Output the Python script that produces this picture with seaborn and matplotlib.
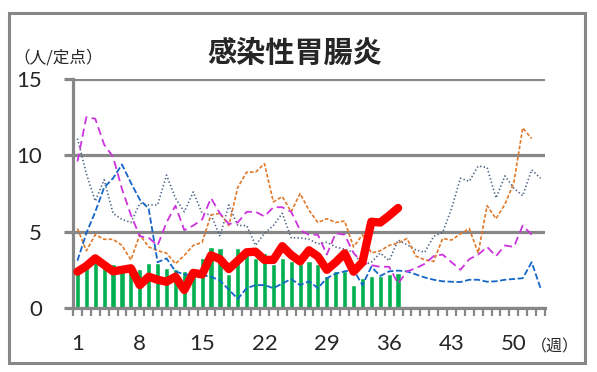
import numpy as np
import matplotlib
matplotlib.use("Agg")
import matplotlib.pyplot as plt
import seaborn as sns
from matplotlib.patches import Rectangle

# ====== データ ====== #
weeks = np.arange(1, 54)
week_labels = [1, 8, 15, 22, 29, 36, 43, 50]

# 棒グラフ (1〜37週)
bar_vals = [2.5, 2.7, 3.0, 2.8, 2.85, 2.6, 2.6, 2.55, 2.95, 2.95,
            2.65, 2.55, 2.4, 2.55, 3.3, 4.0, 3.9, 2.2, 3.9, 3.6,
            3.3, 3.6, 2.9, 3.3, 3.1, 2.85, 3.1, 2.9, 2.1, 2.4,
            2.4, 1.5, 1.95, 2.1, 2.1, 2.2, 2.3]

# 太い赤線 (1〜37週)
red_vals = [2.38, 2.75, 3.25, 2.82, 2.4, 2.5, 2.6, 1.5, 2.05, 1.85,
            1.72, 2.05, 1.18, 2.3, 2.2, 3.45, 3.2, 2.55, 3.1, 3.65,
            3.69, 3.15, 3.15, 4.05, 3.47, 3.05, 3.78, 3.38, 2.5, 3.0,
            3.58, 2.38, 3.0, 5.65, 5.6, 6.05, 6.55]

# 過去の年 (点線・破線)
magenta_vals = [9.6, 12.5, 12.4, 10.7, 9.9, 7.8, 6.1, 4.7, 4.6, 4.1,
                5.6, 6.7, 5.1, 5.4, 5.8, 7.2, 6.2, 5.5, 5.6, 6.3,
                6.3, 6.0, 6.6, 6.6, 6.3, 5.1, 4.8, 4.8, 3.5, 4.9,
                4.8, 3.6, 3.0, 2.8, 2.7, 2.7, 1.6, 2.4, 2.6, 2.9,
                3.4, 3.5, 3.0, 2.5, 3.2, 3.5, 4.0, 3.4, 4.1, 4.0,
                5.4, 4.8]

blue_vals = [3.1, 4.9, 6.3, 7.9, 8.5, 9.4, 8.2, 7.1, 6.5, 3.0,
             3.25, 2.4, 2.2, 2.15, 2.15, 2.05, 1.8, 1.2, 0.6, 1.3,
             1.5, 1.5, 1.3, 1.6, 1.9, 1.5, 1.75, 1.3, 1.95, 2.25,
             2.4, 2.5, 1.5, 2.7, 2.1, 2.4, 2.45, 2.4, 2.2, 2.0,
             1.85, 1.75, 1.72, 1.7, 1.85, 1.85, 1.72, 1.75, 1.85, 1.9,
             1.95, 3.0, 1.3]

gray_vals = [11.1, 8.8, 7.0, 8.4, 6.2, 5.8, 5.6, 6.85, 6.75, 6.75,
             8.7, 7.2, 6.3, 7.6, 6.2, 6.1, 4.7, 6.75, 5.4, 5.4,
             4.1, 4.9, 5.4, 6.2, 4.6, 4.6, 4.5, 4.2, 4.3, 4.0,
             3.85, 3.65, 2.8, 3.0, 3.6, 3.1, 4.45, 4.15, 3.8, 3.65,
             4.7, 4.95, 6.5, 8.5, 8.3, 9.3, 9.2, 7.2, 8.65, 7.85,
             7.35, 9.05, 8.5]

orange_vals = [5.2, 3.75, 4.8, 4.5, 4.5, 4.1, 3.15, 4.8, 4.0, 3.75,
               3.6, 2.9, 3.45, 4.1, 4.3, 6.1, 6.2, 5.4, 7.9, 8.9,
               8.9, 9.45, 6.95, 7.3, 6.3, 7.5, 6.4, 5.6, 5.85, 5.6,
               5.7, 4.0, 4.8, 3.6, 3.75, 4.1, 4.25, 4.55, 3.4, 3.15,
               3.05, 4.55, 4.45, 4.85, 5.2, 3.6, 6.7, 5.85, 6.8, 8.2,
               11.8, 11.1]

# ====== スタイル ====== #
sns.set_style("white")
plt.rcParams['font.family'] = ['Lato', 'Noto Sans CJK JP', 'DejaVu Sans']
jp = 'Noto Sans CJK JP'
grid_col = '#878787'

fig = plt.figure(figsize=(5.97, 3.72), dpi=100)
ax = fig.add_axes([73 / 597, 1 - 308 / 372, (545 - 73) / 597, (308 - 79) / 372])

# 棒
sns.barplot(x=weeks[:len(bar_vals)], y=bar_vals, native_scale=True,
            color='#00B050', saturation=1, width=0.58, ax=ax, zorder=2)

# 過去の線
sns.lineplot(x=weeks[:len(gray_vals)], y=gray_vals, color='#4A6284', lw=1.2,
             linestyle=(0, (0.8, 1.4)), errorbar=None, ax=ax, zorder=3)
sns.lineplot(x=weeks[:len(orange_vals)], y=orange_vals, color='#E0792A', lw=1.2,
             linestyle=(0, (2.2, 1.2)), errorbar=None, ax=ax, zorder=3)
sns.lineplot(x=weeks[:len(blue_vals)], y=blue_vals, color='#1566C8', lw=1.3,
             linestyle=(0, (3.5, 1.4)), errorbar=None, ax=ax, zorder=3)
sns.lineplot(x=weeks[:len(magenta_vals)], y=magenta_vals, color='#CC33DD', lw=1.3,
             linestyle=(0, (4.5, 2.5)), errorbar=None, ax=ax, zorder=3)

# 今年
sns.lineplot(x=weeks[:len(red_vals)], y=red_vals, color='#FF0000', lw=6,
             errorbar=None, ax=ax, zorder=4, solid_joinstyle='round', solid_capstyle='round')

# 軸
ax.set_xlim(0.5, 53.5)
ax.set_ylim(0, 15)
ax.set_yticks([0, 5, 10, 15])
ax.set_xticks(week_labels)
ax.set_xticks(np.arange(0.5, 54, 1), minor=True)
ax.set_xlabel('')
ax.set_ylabel('')
ax.yaxis.grid(True, color=grid_col, lw=2.3)
ax.xaxis.grid(False)
ax.set_axisbelow(True)

for side in ['top', 'right']:
    ax.spines[side].set_visible(False)
for side in ['left', 'bottom']:
    ax.spines[side].set_color(grid_col)
    ax.spines[side].set_linewidth(2.3)

ax.tick_params(axis='y', which='major', length=6.5, width=2.3, color=grid_col,
               labelsize=16, pad=16, left=True)
ax.tick_params(axis='x', which='major', length=0, labelsize=16, pad=19, bottom=True)
ax.tick_params(axis='x', which='minor', length=5.5, width=1.6, color=grid_col, bottom=True)

# テキスト
fig.text(295 / 597, 1 - 53 / 372, '感染性胃腸炎', family=jp, fontsize=21,
         fontweight='bold', ha='center', va='center')
fig.text(58 / 597, 1 - 58 / 372, '（人/定点）', family=jp, fontsize=12,
         ha='center', va='center')
fig.text(555 / 597, 1 - 347 / 372, '（週）', family=jp, fontsize=11.5,
         ha='center', va='center')

# 外枠
fig.patches.append(Rectangle((9 / 597, 1 - 363 / 372), (585 - 9) / 597, (363 - 13) / 372,
                             transform=fig.transFigure, fill=False,
                             edgecolor=grid_col, lw=2.2))

fig.savefig('out.png', dpi=100)
